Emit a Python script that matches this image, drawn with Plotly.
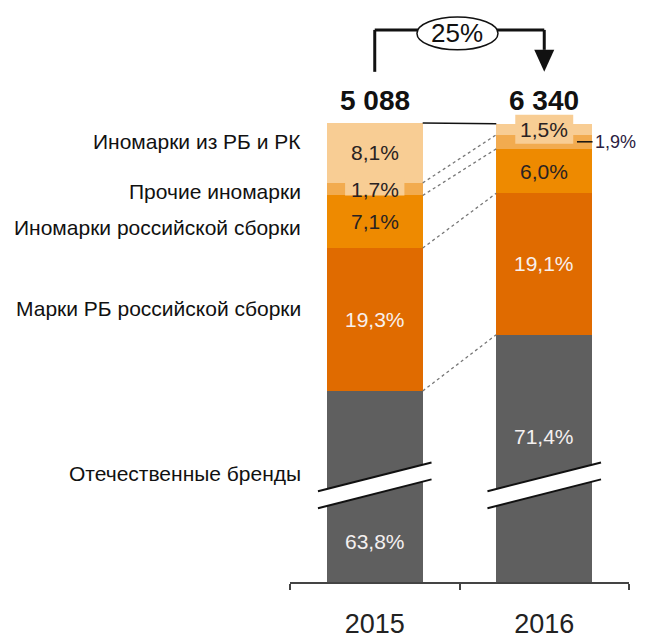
import plotly.graph_objects as go
import numpy as np

# ---- data ----
years = ["2015", "2016"]
totals = [5088, 6340]
growth_label = "25%"
series_names = [
    "Отечественные бренды",
    "Марки РБ российской сборки",
    "Иномарки российской сборки",
    "Прочие иномарки",
    "Иномарки из РБ и РК",
]
domestic = [63.8, 71.4]
rb_russian = [19.3, 19.1]
foreign_russian = [7.1, 6.0]
other_foreign = [1.7, 1.9]
foreign_rb_rk = [8.1, 1.5]

series_values = [domestic, rb_russian, foreign_russian, other_foreign, foreign_rb_rk]
colors = ["#5f5f5f", "#e06b00", "#ee8a00", "#f2ab4f", "#f8cd94"]
text_colors = ["#f4f0f0", "#f8f0ec", "#2a2222", "#2a2222", "#2a2222"]

# ---- layout constants ----
Y_MIN, Y_MAX = 38.0, 115.25
BAR_W = 0.566
HALF = BAR_W / 2
xs = [0, 1]
fmt = lambda v: f"{v:.1f}".replace(".", ",") + "%"

fig = go.Figure()
for name, vals, col in zip(series_names, series_values, colors):
    fig.add_trace(go.Bar(x=xs, y=vals, name=name, marker=dict(color=col, line=dict(width=0)),
                         width=BAR_W, hoverinfo="skip"))

cum = np.cumsum(np.array(series_values), axis=0)  # shape (5, 2)
shapes = []
annotations = []

# highlight boxes behind small labels
shapes.append(dict(type="rect", xref="x", yref="y", x0=-0.175, x1=0.175,
                   y0=cum[2][0], y1=cum[3][0] + 0.9, fillcolor=colors[4], line=dict(width=0), layer="above"))
shapes.append(dict(type="rect", xref="x", yref="y", x0=1 - 0.171, x1=1 + 0.171,
                   y0=cum[3][1] - 1.2, y1=cum[4][1] + 1.2, fillcolor=colors[4], line=dict(width=0), layer="above"))

# axis break marks in the domestic bars
brk_l_up, brk_r_up, brk_gap = 50.25, 54.15, 2.29
for xc in xs:
    xa, xb = xc - 0.335, xc + 0.335
    shapes.append(dict(type="path", xref="x", yref="y",
                       path=f"M {xa},{brk_l_up} L {xb},{brk_r_up} L {xb},{brk_r_up - brk_gap} L {xa},{brk_l_up - brk_gap} Z",
                       fillcolor="white", line=dict(width=0), layer="above"))
    for off in (0, brk_gap):
        shapes.append(dict(type="line", xref="x", yref="y", x0=xa, y0=brk_l_up - off, x1=xb, y1=brk_r_up - off,
                           line=dict(color="#111", width=2), layer="above"))

# connectors between bars
for k in range(5):
    solid = k == 4
    shapes.append(dict(type="line", xref="x", yref="y", x0=HALF, y0=cum[k][0], x1=1 - HALF, y1=cum[k][1],
                       line=dict(color="#111" if solid else "#777", width=1.5 if solid else 1.3,
                                 dash="solid" if solid else "dot"), layer="above"))

# segment labels
gray_label_y = [43.5, 57.6]
for k, vals in enumerate(series_values):
    for i, v in enumerate(vals):
        if k == 3 and i == 1:
            continue
        y = gray_label_y[i] if k == 0 else cum[k][i] - v / 2
        annotations.append(dict(x=xs[i], y=y, xref="x", yref="y", text=fmt(v), showarrow=False,
                                font=dict(size=21, color=text_colors[k]), xanchor="center", yanchor="middle"))

# 1.9% label outside with leader
y19 = cum[3][1] - other_foreign[1] / 2
shapes.append(dict(type="line", xref="x", yref="y", x0=1.193, y0=y19, x1=1.285, y1=y19,
                   line=dict(color="#111", width=1.5), layer="above"))
annotations.append(dict(x=1.288, y=y19, xref="x", yref="y", text=fmt(other_foreign[1]), showarrow=False,
                        font=dict(size=18, color="#2a2040"), xanchor="left", yanchor="middle"))

# left category labels
left_label_y = [52.67, 74.88, 85.91, 90.76, 97.49]
for name, y in zip(series_names, left_label_y):
    annotations.append(dict(x=-0.423, y=y, xref="x", yref="y", text=name, showarrow=False,
                            font=dict(size=21, color="#111"), xanchor="right", yanchor="middle"))

# totals
for i, t in enumerate(totals):
    annotations.append(dict(x=xs[i], y=103.0, xref="x", yref="y", text=f"<b>{t:,}</b>".replace(",", " "),
                            showarrow=False, font=dict(size=28, color="#111"), xanchor="center", yanchor="middle"))

# growth arrow
y_lo, y_hi, y_head = 106.9, 112.56, 109.87
ln = dict(color="#111", width=3)
shapes.append(dict(type="line", xref="x", yref="y", x0=0, y0=y_lo, x1=0, y1=y_hi, line=ln, layer="above"))
shapes.append(dict(type="line", xref="x", yref="y", x0=0, y0=y_hi, x1=1, y1=y_hi, line=ln, layer="above"))
shapes.append(dict(type="line", xref="x", yref="y", x0=1, y0=y_hi, x1=1, y1=y_head, line=ln, layer="above"))
shapes.append(dict(type="path", xref="x", yref="y",
                   path=f"M {1 - 0.059},{y_head} L {1 + 0.059},{y_head} L 1,{y_lo} Z",
                   fillcolor="#111", line=dict(width=0), layer="above"))
shapes.append(dict(type="circle", xref="x", yref="y", x0=0.249, x1=0.727, y0=109.87, y1=114.31,
                   fillcolor="white", line=dict(color="#111", width=1.5), layer="above"))
annotations.append(dict(x=0.488, y=112.2, xref="x", yref="y", text=growth_label, showarrow=False,
                        font=dict(size=26, color="#111"), xanchor="center", yanchor="middle"))

fig.update_layout(
    barmode="stack",
    width=638, height=633,
    margin=dict(l=282, r=17, t=2, b=57),
    paper_bgcolor="white", plot_bgcolor="white",
    showlegend=False,
    font=dict(family="Liberation Sans, Arial, sans-serif", color="#111"),
    shapes=shapes, annotations=annotations,
    xaxis=dict(range=[-0.5, 1.5], tickmode="array", tickvals=xs, ticktext=years, ticks="",
               showline=True, linecolor="#444", linewidth=2, showgrid=False, zeroline=False,
               tickfont=dict(size=27, color="#222"), ticklabelstandoff=17,
               minor=dict(tickmode="array", tickvals=[-0.5, 0.5, 1.5], ticks="outside", ticklen=6,
                          tickcolor="#444", tickwidth=2, showgrid=False)),
    yaxis=dict(range=[Y_MIN, Y_MAX], visible=False, showgrid=False, zeroline=False),
)

fig.write_html("out.html", config={"displayModeBar": False},
               post_script="document.body.style.overflow='hidden';")
